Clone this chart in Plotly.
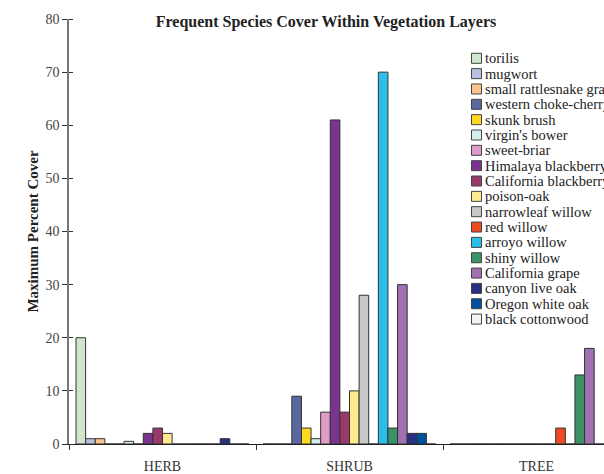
import plotly.graph_objects as go

layers = ["HERB", "SHRUB", "TREE"]
species = ["torilis", "mugwort", "small rattlesnake grass", "western choke-cherry",
           "skunk brush", "virgin's bower", "sweet-briar", "Himalaya blackberry",
           "California blackberry", "poison-oak", "narrowleaf willow", "red willow",
           "arroyo willow", "shiny willow", "California grape", "canyon live oak",
           "Oregon white oak", "black cottonwood"]
# values per species: [HERB, SHRUB, TREE]
torilis = [20, 0, 0]
mugwort = [1, 0, 0]
small_rattlesnake_grass = [1, 0, 0]
western_choke_cherry = [0, 9, 0]
skunk_brush = [0, 3, 0]
virgins_bower = [0.5, 1, 0]
sweet_briar = [0, 6, 0]
himalaya_blackberry = [2, 61, 0]
california_blackberry = [3, 6, 0]
poison_oak = [2, 10, 0]
narrowleaf_willow = [0, 28, 0]
red_willow = [0, 0, 3]
arroyo_willow = [0, 70, 0]
shiny_willow = [0, 3, 13]
california_grape = [0, 30, 18]
canyon_live_oak = [1, 2, 0]
oregon_white_oak = [0, 2, 0]
black_cottonwood = [0, 0, 0]

values = [torilis, mugwort, small_rattlesnake_grass, western_choke_cherry, skunk_brush,
          virgins_bower, sweet_briar, himalaya_blackberry, california_blackberry, poison_oak,
          narrowleaf_willow, red_willow, arroyo_willow, shiny_willow, california_grape,
          canyon_live_oak, oregon_white_oak, black_cottonwood]

colors = ["#cfe6cc", "#b8c0e2", "#fcc38e", "#5a68a0", "#ffd820", "#d2eeee", "#e09cc8",
          "#7b3390", "#9a3a6a", "#ffe98f", "#c8c8c8", "#f04a20", "#28c0e8", "#3a9468",
          "#a070b0", "#283080", "#0050a0", "#f4f4f4"]

W, H = 604, 474
L, R, T, B = 69, 0, 19, 30
pw = W - L - R
ph = H - T - B

fig = go.Figure()
for name, vals, col in zip(species, values, colors):
    fig.add_trace(go.Bar(
        x=layers, y=vals, name=name, showlegend=False,
        marker=dict(color=col, line=dict(color="#333333", width=1)),
    ))

SERIF = "Liberation Serif, Times New Roman, serif"

def px_x(p):
    return (p - L) / pw

def px_y(p):
    return (H - B - p) / ph

shapes = []
annotations = []
y0 = 58.3
step = 15.34
for i, (name, col) in enumerate(zip(species, colors)):
    cy = y0 + i * step
    shapes.append(dict(type="rect", xref="paper", yref="paper",
                       x0=px_x(471.5), x1=px_x(481.5), y0=px_y(cy + 5), y1=px_y(cy - 5),
                       fillcolor=col, line=dict(color="#444444", width=1)))
    annotations.append(dict(xref="paper", yref="paper", x=px_x(483), y=px_y(cy),
                            xanchor="left", yanchor="middle", showarrow=False,
                            text=name, font=dict(family=SERIF, size=14.5, color="#222222")))

fig.update_layout(
    width=W, height=H,
    margin=dict(l=L, r=R, t=T, b=B, pad=0),
    paper_bgcolor="white", plot_bgcolor="white",
    barmode="group", bargap=0.075, bargroupgap=0,
    title=dict(text="<b>Frequent Species Cover Within Vegetation Layers</b>",
               x=326 / W, xref="container", xanchor="center",
               y=1 - 21 / H, yref="container", yanchor="middle",
               font=dict(family=SERIF, size=16, color="#222222")),
    xaxis=dict(range=[-0.5, -0.5 + pw / 187.0], tickson="boundaries",
               ticks="outside", ticklen=5, tickcolor="#333333",
               showline=True, linecolor="#222222", linewidth=1.2,
               showgrid=False, zeroline=False, ticklabelstandoff=9,
               tickfont=dict(family=SERIF, size=14, color="#333333")),
    yaxis=dict(range=[0, 80], dtick=10, ticks="outside", ticklen=5,
               tickcolor="#333333", showline=True, linecolor="#777777", linewidth=1.5,
               showgrid=False, zeroline=False,
               minor=dict(dtick=10, ticks="inside", ticklen=4, tickcolor="#333333"),
               tickfont=dict(family=SERIF, size=14, color="#444444"),
               title=dict(text="<b>Maximum Percent Cover</b>", standoff=3,
                          font=dict(family=SERIF, size=15, color="#222222"))),
    shapes=shapes, annotations=annotations,
)

fig.write_html("out.html", config={"displayModeBar": False},
               post_script="document.body.style.margin='0';document.body.style.overflow='hidden';")
